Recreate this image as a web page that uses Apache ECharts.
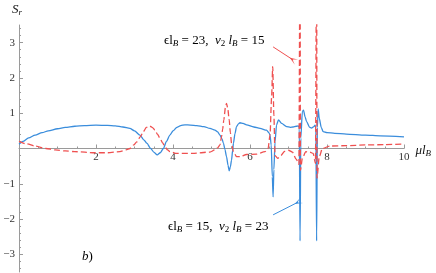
<!DOCTYPE html>
<html>
<head>
<meta charset="utf-8">
<script src="https://cdn.jsdelivr.net/npm/echarts@6/dist/echarts.min.js"></script>
<style>html,body{margin:0;padding:0;background:#fff}#c{width:436px;height:273px}</style>
</head>
<body>
<div id="c"></div>
<script>
// ---- data ----
var blueX = [0,0.1,0.25,0.42,0.6,0.76,1.0,1.2,1.45,1.7,2.0,2.3,2.5,2.7,2.88,3.0,3.14,3.25,3.32,3.42,3.5,3.59,3.67,3.75,3.83,3.92,4.0,4.1,4.2,4.31,4.45,4.62,4.8,4.96,5.09,5.16,5.22,5.27,5.31,5.35,5.39,5.43,5.46,5.49,5.52,5.55,5.57,5.61,5.65,5.7,5.74,5.82,5.91,6.1,6.26,6.43,6.49,6.52,6.55,6.58,6.6,6.62,6.65,6.69,6.74,6.82,6.95,7.05,7.12,7.2,7.25,7.28,7.3,7.32,7.36,7.39,7.43,7.47,7.55,7.6,7.66,7.69,7.71,7.73,7.75,7.77,7.8,7.85,7.9,8.0,8.2,8.5,9.0,9.38,10];
var blueY = [0.12,0.2,0.3,0.38,0.45,0.5,0.56,0.6,0.63,0.65,0.66,0.655,0.64,0.61,0.57,0.5,0.38,0.24,0.15,0.0,-0.1,-0.18,-0.12,0.0,0.2,0.38,0.5,0.6,0.65,0.67,0.665,0.65,0.62,0.57,0.52,0.47,0.38,0.28,0.15,-0.03,-0.23,-0.48,-0.63,-0.52,-0.33,-0.05,0.15,0.42,0.62,0.7,0.73,0.71,0.67,0.61,0.57,0.52,0.45,0.38,0.1,-0.8,-1.37,-0.6,0.19,0.67,0.81,0.71,0.62,0.6,0.61,0.63,0.64,0.6,-2.62,0.3,1.05,1.09,0.9,0.76,0.6,0.58,0.62,0.66,0.6,-2.62,0.6,1.12,0.85,0.6,0.48,0.45,0.43,0.41,0.38,0.36,0.33];
var redX = [0,0.2,0.42,0.7,0.94,1.2,1.45,1.97,2.3,2.62,2.78,2.88,2.98,3.06,3.15,3.23,3.31,3.39,3.46,3.53,3.6,3.66,3.73,3.79,3.86,3.92,4.1,4.5,4.96,5.09,5.16,5.22,5.26,5.29,5.32,5.36,5.39,5.42,5.46,5.49,5.52,5.57,5.65,5.74,5.91,6.17,6.39,6.47,6.52,6.56,6.59,6.62,6.65,6.72,6.8,6.9,7.0,7.1,7.2,7.27,7.3,7.31,7.36,7.45,7.55,7.64,7.7,7.73,7.74,7.8,7.88,8.08,8.5,9.0,9.5,10];
var redY = [0.2,0.13,0.07,0.0,-0.04,-0.07,-0.09,-0.12,-0.12,-0.09,-0.04,0.0,0.1,0.19,0.33,0.48,0.6,0.64,0.6,0.52,0.4,0.29,0.16,0.05,-0.04,-0.09,-0.14,-0.14,-0.1,-0.04,0.02,0.1,0.33,0.55,0.81,1.15,1.28,1.15,0.81,0.45,0.15,-0.09,-0.23,-0.23,-0.17,-0.16,-0.09,0.0,0.38,1.43,2.32,0.95,-0.2,-0.28,-0.2,-0.08,-0.05,-0.1,-0.3,-0.45,6,-0.62,-0.28,-0.09,-0.1,-0.14,-0.42,6,-0.84,-0.23,0.0,0.07,0.08,0.1,0.11,0.13];
var yMajorTicks = [-3,-2,-1,1,2,3];
var yMinorTicks = [-3.4,-3.2,-2.8,-2.6,-2.4,-2.2,-1.8,-1.6,-1.4,-1.2,-0.8,-0.6,-0.4,-0.2,0.2,0.4,0.6,0.8,1.2,1.4,1.6,1.8,2.2,2.4,2.6,2.8,3.2,3.4];
var redArrow = [[6.6,2.88],[7.12,2.51]];
var blueArrow = [[6.6,-1.88],[7.25,-1.52]];

function pairs(xs, ys){ return xs.map(function(x,i){ return [x, ys[i]]; }); }

var serif = 'Liberation Serif';
var axisGray = '#9a9a9a';
var blue = '#3a8ddc';
var red = '#ef5050';
var head = 'path://M0,0 L5,10 L10,0 L5,6 Z';

var subRich = {
  n: {fontFamily: serif, fontSize: 13, color: '#111'},
  i: {fontFamily: serif, fontSize: 13, fontStyle: 'italic', color: '#111'},
  s: {fontFamily: serif, fontSize: 9, fontStyle: 'italic', color: '#111', padding: [6,0,0,0]},
  d: {fontFamily: serif, fontSize: 9, color: '#111', padding: [6,0,0,0]}
};

var gridTop = 25, gridBottom = 1, H = 273;
var zeroOffset = -(H - gridTop - gridBottom) / 2;

var chart = echarts.init(document.getElementById('c'), null, {renderer: 'canvas'});
chart.setOption({
  animation: false,
  backgroundColor: '#fff',
  grid: {left: 19, right: 32, top: gridTop, bottom: gridBottom, containLabel: false, outerBoundsMode: 'none'},
  xAxis: {
    type: 'value', min: 0, max: 10, interval: 2, position: 'bottom', offset: zeroOffset,
    name: '{i|μl}{s|B}', nameLocation: 'end', nameGap: 8,
    nameTextStyle: {rich: subRich, padding: [4,0,0,0]},
    axisLine: {onZero: false, lineStyle: {color: axisGray, width: 1}},
    axisTick: {inside: true, length: 4, lineStyle: {color: axisGray}},
    minorTick: {show: true, splitNumber: 4, length: 2, lineStyle: {color: axisGray}},
    splitLine: {show: false}, minorSplitLine: {show: false},
    axisLabel: {showMinLabel: false, fontFamily: serif, fontSize: 11, color: '#333', margin: 3}
  },
  yAxis: [{
    type: 'value', min: -3.5, max: 3.5,
    name: '{i|S}{s|r}', nameLocation: 'end', nameGap: 8,
    nameTextStyle: {rich: subRich, align: 'center', padding: [0,4,0,0]},
    axisLine: {onZero: false, lineStyle: {color: axisGray, width: 1}},
    axisTick: {inside: true, length: 4, customValues: yMajorTicks, lineStyle: {color: axisGray}},
    splitLine: {show: false},
    axisLabel: {customValues: yMajorTicks, fontFamily: serif, fontSize: 11, color: '#333', margin: 4,
      formatter: function(v){ return v < 0 ? '\u2212' + (-v) : String(v); }}
  }, {
    type: 'value', min: -3.5, max: 3.5, position: 'left',
    axisLine: {show: false, onZero: false},
    axisTick: {inside: true, length: 2, customValues: yMinorTicks, lineStyle: {color: axisGray}},
    splitLine: {show: false},
    axisLabel: {show: false}
  }],
  series: [{
    type: 'line', name: 'blue', data: pairs(blueX, blueY), showSymbol: false, symbol: 'none',
    smooth: 0.25, smoothMonotone: 'x', clip: true,
    lineStyle: {color: blue, width: 1.3},
    markLine: {silent: true, symbol: ['none', head], symbolSize: [6, 8],
      label: {show: false}, lineStyle: {color: blue, width: 1, type: 'solid'},
      data: [[{coord: blueArrow[0]}, {coord: blueArrow[1]}]]}
  }, {
    type: 'line', name: 'red', data: pairs(redX, redY), showSymbol: false, symbol: 'none',
    smooth: 0.25, smoothMonotone: 'x', clip: true,
    lineStyle: {color: red, width: 1.3, type: [6, 3]},
    markLine: {silent: true, symbol: ['none', head], symbolSize: [6, 8],
      label: {show: false}, lineStyle: {color: red, width: 1, type: 'solid'},
      data: [[{coord: redArrow[0]}, {coord: redArrow[1]}]]}
  }],
  graphic: [{
    type: 'text', left: 164, top: 34,
    style: {text: '{n|ϵl}{s|B}{n| = 23,  }{i|v}{d|2}{n| }{i|l}{s|B}{n| = 15}', rich: subRich}
  }, {
    type: 'text', left: 168, top: 220,
    style: {text: '{n|ϵl}{s|B}{n| = 15,  }{i|v}{d|2}{n| }{i|l}{s|B}{n| = 23}', rich: subRich}
  }, {
    type: 'text', left: 82, top: 250,
    style: {text: '{i|b}{n|)}', rich: subRich}
  }]
});
</script>
</body>
</html>
